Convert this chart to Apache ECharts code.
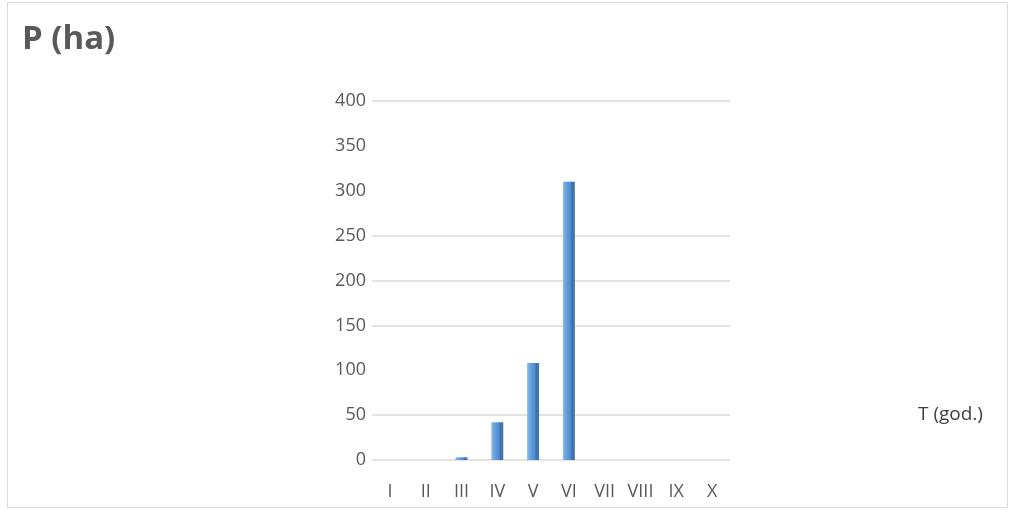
<!DOCTYPE html>
<html>
<head>
<meta charset="utf-8">
<style>
  html, body { margin: 0; padding: 0; background: #ffffff; }
  #chart { width: 1012px; height: 512px; }
</style>
<script src="https://cdn.jsdelivr.net/npm/echarts@6/dist/echarts.min.js"></script>
</head>
<body>
<div id="chart"></div>
<script>
// Periods (Roman numerals) and area per period, in hectares
const periods = ['I', 'II', 'III', 'IV', 'V', 'VI', 'VII', 'VIII', 'IX', 'X'];
const areaHa = [0, 0, 3, 42, 108, 310, 0, 0, 0, 0];
// Horizontal reference lines that are drawn across the plot
const gridValues = [0, 50, 150, 200, 250, 400];
const titleText = 'P (ha)';
const xAxisTitle = 'T (god.)';

const textColor = '#595959';
const gridColor = '#e3e3e3';
const fontFamily = '"Open Sans", "Noto Sans", sans-serif';

const chart = echarts.init(document.getElementById('chart'), null, { renderer: 'canvas' });

chart.setOption({
  backgroundColor: '#ffffff',
  animation: false,
  graphic: [
    {
      type: 'rect',
      shape: { x: 7.5, y: 2.5, width: 1000, height: 505 },
      style: { fill: 'none', stroke: '#d9d9d9', lineWidth: 1 },
      z: -1
    },
    {
      type: 'text',
      left: 22,
      top: 23,
      style: {
        text: titleText,
        font: 'bold 33px ' + fontFamily,
        fill: textColor
      }
    },
    {
      type: 'text',
      left: 918,
      top: 405,
      style: {
        text: xAxisTitle,
        font: '19px ' + fontFamily,
        fill: '#404040'
      }
    }
  ],
  grid: {
    left: 372,
    right: 282,
    top: 101,
    bottom: 52,
    containLabel: false
  },
  xAxis: {
    type: 'category',
    data: periods,
    boundaryGap: true,
    axisLine: { show: false },
    axisTick: { show: false },
    axisLabel: {
      color: textColor,
      fontSize: 18,
      fontFamily: fontFamily,
      margin: 23
    },
    splitLine: { show: false }
  },
  yAxis: {
    type: 'value',
    min: 0,
    max: 400,
    interval: 50,
    axisLine: { show: false },
    axisTick: { show: false },
    axisLabel: {
      color: textColor,
      fontSize: 18,
      fontFamily: fontFamily,
      margin: 6
    },
    splitLine: { show: false }
  },
  series: [
    {
      type: 'bar',
      data: areaHa,
      barWidth: 12,
      itemStyle: {
        color: new echarts.graphic.LinearGradient(0, 0, 1, 0, [
          { offset: 0, color: '#8dbbe8' },
          { offset: 0.25, color: '#6aa3dc' },
          { offset: 0.65, color: '#4a8bd0' },
          { offset: 0.75, color: '#3c70aa' },
          { offset: 1, color: '#4d78a8' }
        ])
      },
      markLine: {
        silent: true,
        symbol: 'none',
        label: { show: false },
        lineStyle: { color: gridColor, width: 2, type: 'solid' },
        z: 0,
        data: gridValues.map(v => ({ yAxis: v }))
      },
      z: 2
    }
  ]
});
</script>
</body>
</html>
